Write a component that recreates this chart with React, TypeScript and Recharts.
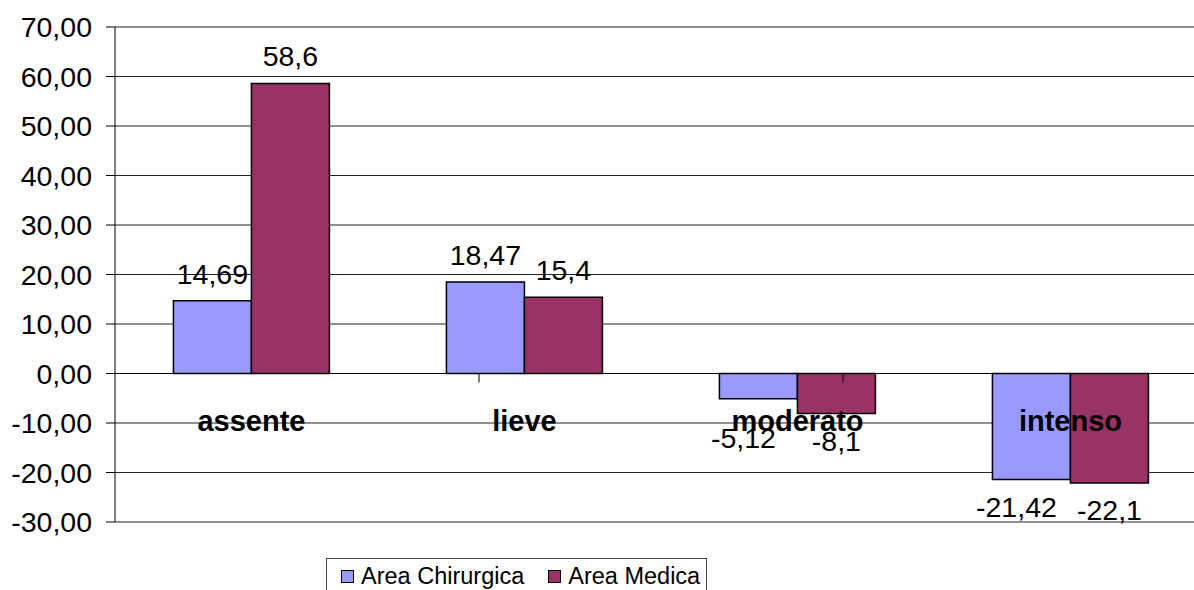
import React from "react";
import {
    BarChart,
    Bar,
    XAxis,
    YAxis,
    CartesianGrid,
    ReferenceLine,
    ReferenceDot,
    LabelList,
    Legend,
} from "recharts";

const categories = ["assente", "lieve", "moderato", "intenso"];
const areaChirurgica = [14.69, 18.47, -5.12, -21.42];
const areaMedica = [58.6, 15.4, -8.1, -22.1];
const yTicks = [-30, -20, -10, 0, 10, 20, 30, 40, 50, 60, 70];
const boundaries = [1, 2, 3];

// the category names sit just under the zero line, inside the plot
const CAT_LABEL_Y = -9.5;
const LABEL_FONT = 28.5;

const data = categories.map((name, i) => ({
    name,
    chir: areaChirurgica[i],
    med: areaMedica[i],
}));

const fmtTick = (v: number) => v.toFixed(2).replace(".", ",");
const fmtLabel = (v: any) => String(v).replace(".", ",");

// value labels: above positive bars, below negative ones, pushed under the category name if they would collide
const makeLabel = (dxNeg: number) => (props: any) => {
    const { x, y, width, height, value } = props;
    const v = Number(value);
    const top = Math.min(y, y + height);
    const bottom = Math.max(y, y + height);
    const cx = x + width / 2;
    let baseline: number;
    let dx = 0;
    if (v >= 0) {
        baseline = top - 17;
    } else {
        const ppu = (bottom - top) / Math.abs(v);
        const catY = top + Math.abs(CAT_LABEL_Y) * ppu;
        const capTop = Math.max(bottom + 17, catY + 7);
        baseline = capTop + 0.716 * LABEL_FONT;
        dx = dxNeg;
    }
    return (
        <text
            x={cx + dx}
            y={baseline}
            textAnchor="middle"
            fill="#000"
            fontSize={LABEL_FONT}
        >
            {fmtLabel(v)}
        </text>
    );
};

const LegendBox = ({ payload }: any) => (
    <div style={{ height: 78, paddingTop: 36, boxSizing: "border-box", paddingLeft: 326 }}>
        <div
            style={{
                display: "inline-flex",
                alignItems: "center",
                border: "1px solid #444",
                height: 42,
                paddingLeft: 14,
                paddingRight: 6,
                boxSizing: "border-box",
            }}
        >
            {(payload || []).map((p: any, i: number) => (
                <div
                    key={i}
                    style={{
                        display: "flex",
                        alignItems: "center",
                        marginRight: i === 0 ? 24 : 0,
                        marginTop: -6,
                    }}
                >
                    <span
                        style={{
                            width: 11,
                            height: 11,
                            background: p.color,
                            border: "1.5px solid #000",
                            marginRight: 7,
                            display: "inline-block",
                        }}
                    />
                    <span style={{ fontSize: 23.5, color: "#000" }}>{p.value}</span>
                </div>
            ))}
        </div>
    </div>
);

const App = () => {
    return (
        <div
            style={{
                position: "fixed",
                left: 0,
                top: 0,
                width: 1194,
                height: 590,
                overflow: "hidden",
                background: "#fff",
                fontFamily: "'Liberation Sans', Arial, sans-serif",
            }}
        >
            <BarChart
                width={1207}
                height={600}
                data={data}
                margin={{ top: 27, right: 0, left: 0, bottom: 0 }}
                barCategoryGap="21.4%"
                barGap={0}
            >
                <CartesianGrid vertical={false} stroke="#222" />
                <XAxis dataKey="name" hide />
                <XAxis xAxisId="b" type="number" domain={[0, 4]} hide />
                <YAxis
                    width={115}
                    domain={[-30, 70]}
                    ticks={yTicks}
                    interval={0}
                    tickFormatter={fmtTick}
                    tickSize={9}
                    tickMargin={14}
                    axisLine={{ stroke: "#000" }}
                    tickLine={{ stroke: "#000" }}
                    tick={{ fill: "#000", fontSize: 28.5 }}
                />
                <Legend verticalAlign="bottom" content={<LegendBox />} />
                <Bar
                    dataKey="chir"
                    name="Area Chirurgica"
                    fill="#9999FF"
                    stroke="#000"
                    strokeWidth={1.5}
                    isAnimationActive={false}
                >
                    <LabelList dataKey="chir" content={makeLabel(-15)} />
                </Bar>
                <Bar
                    dataKey="med"
                    name="Area Medica"
                    fill="#993366"
                    stroke="#000"
                    strokeWidth={1.5}
                    isAnimationActive={false}
                >
                    <LabelList dataKey="med" content={makeLabel(0)} />
                </Bar>
                <ReferenceLine y={0} stroke="#000" />
                {boundaries.map((b) => (
                    <ReferenceLine
                        key={b}
                        xAxisId="b"
                        segment={[
                            { x: b, y: 0 },
                            { x: b, y: -1.8 },
                        ]}
                        stroke="#000"
                    />
                ))}
                {categories.map((c) => (
                    <ReferenceDot
                        key={c}
                        x={c}
                        y={CAT_LABEL_Y}
                        r={0}
                        fill="none"
                        stroke="none"
                        label={{
                            value: c,
                            position: "center",
                            fill: "#000",
                            fontSize: 29,
                            fontWeight: "bold",
                        }}
                    />
                ))}
            </BarChart>
        </div>
    );
};

export default App;
